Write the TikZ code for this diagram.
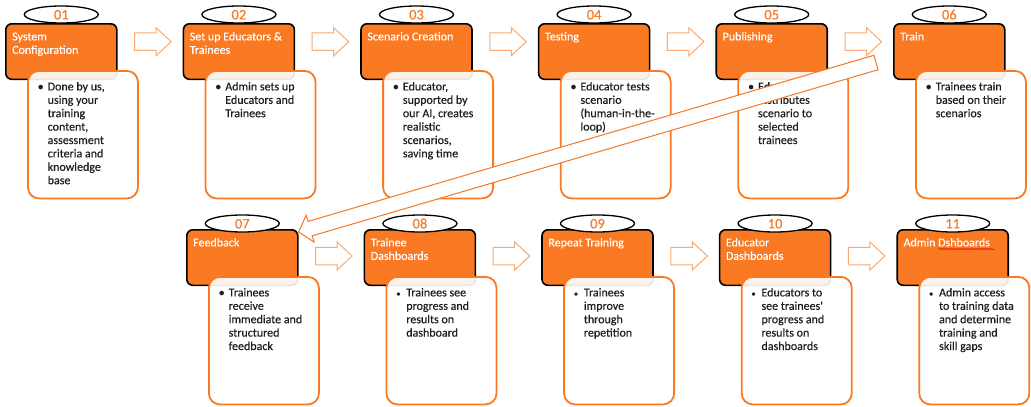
\documentclass[tikz,border=0pt]{standalone}
\usepackage{fontspec}
\setmainfont{Carlito}[FakeBold=0.35]
\newfontfamily\plainfont{Carlito}[FakeBold=0.35]
\usetikzlibrary{calc,shapes.geometric,decorations.pathmorphing}
\definecolor{org}{RGB}{250,122,36}
\definecolor{numc}{RGB}{245,124,40}
\definecolor{harr}{RGB}{248,170,115}
\definecolor{darr}{RGB}{244,120,40}
\definecolor{txt}{RGB}{30,30,30}
\newcommand\mylines[1]{\vtop{\baselineskip=13.4pt\halign{##\hfil\cr#1\crcr}}}
\newcommand\bigbul{\textbullet}
\newcommand\smallbul{\scalebox{0.7}{\textbullet}}
% #1 id, #2 x, #3 y, #4 ellipse dy, #5 number, #6 title, #7 body, #8 bullet
\newcommand\card[8]{%
  \node[obox, anchor=north west] (o#1) at (#2,#3) {};
  \node[wbox, anchor=north west] (w#1) at ($(o#1.north west)+(22,47)$) {};
  \node[nell] (e#1) at ($(o#1.north)+(0,#4)$) {#5};
  \node[ttl, anchor=base west] (t#1) at ($(o#1.north west)+(7,17.4)$) {\mylines{#6}};
  \node[bodytxt, anchor=base west] (u#1) at ($(w#1.north west)+(10.5,20.4)$) {#8};
  \node[bodytxt, anchor=base west] (b#1) at ($(w#1.north west)+(20.5,20.4)$) {\mylines{#7}};
}
\tikzset{
  obox/.style={draw=black, line width=1.6pt, fill=org, rounded corners=6pt,
    minimum width=111pt, minimum height=55.5pt, inner sep=0pt},
  wbox/.style={draw=org, line width=1.8pt, fill=white, fill opacity=0.9,
    rounded corners=11pt, minimum width=110pt, minimum height=127.5pt, inner sep=0pt},
  nell/.style={ellipse, draw=black, line width=1.3pt, fill=white, minimum width=74pt,
    minimum height=17pt, inner sep=0pt, text=numc, text height=9.8pt, text depth=0pt,
    font=\fontsize{14.5}{14.5}\selectfont},
  ttl/.style={inner sep=0pt, text=white, font=\fontsize{12}{13.4}\selectfont},
  bodytxt/.style={inner sep=0pt, text=txt, font=\fontsize{12}{13.4}\selectfont},
  harrow/.style={draw=harr, line width=1pt, fill=white},
  darrow/.style={draw=darr, line width=1pt, fill=white},
  hblock/.pic={\draw[harrow] (0,-8.75) -- (21.5,-8.75) -- (21.5,-14) -- (36.5,0)
     -- (21.5,14) -- (21.5,8.75) -- (0,8.75) -- cycle;}
}
\begin{document}
\begin{tikzpicture}[x=1pt,y=-1pt]
\fill[white] (0,0) rectangle (1031,407);
\useasboundingbox (0,0) rectangle (1031,407);
% top row
\card{1}{5}{23}{-8.5}{01}{System\cr Configuration}{Done by us,\cr using your\cr training\cr content,\cr assessment\cr criteria and\cr knowledge\cr base}{\bigbul}
\card{2}{182.6}{23}{-8.5}{02}{Set up Educators \&\cr Trainees}{Admin sets up\cr Educators and\cr Trainees}{\bigbul}
\card{3}{360.2}{23}{-8.5}{03}{Scenario Creation}{Educator,\cr supported by\cr our AI, creates\cr realistic\cr scenarios,\cr saving time}{\bigbul}
\card{4}{537.8}{23}{-8.5}{04}{Testing}{Educator tests\cr scenario\cr (human-in-the-\cr loop)}{\bigbul}
\card{5}{715.4}{23}{-8.5}{05}{Publishing}{Educator\cr distributes\cr scenario to\cr selected\cr trainees}{\bigbul}
\card{6}{893}{23}{-8.5}{06}{Train}{Trainees train\cr based on their\cr scenarios}{\bigbul}
% bottom row
\card{7}{186}{229}{-5.5}{07}{Feedback}{Trainees\cr receive\cr immediate and\cr structured\cr feedback}{\bigbul}
\card{8}{363.6}{229}{-5.5}{08}{Trainee\cr Dashboards}{Trainees see\cr progress and\cr results on\cr dashboard}{\smallbul}
\card{9}{541.2}{229}{-5.5}{09}{Repeat Training}{Trainees\cr improve\cr through\cr repetition}{\smallbul}
\card{10}{718.8}{229}{-5.5}{10}{Educator\cr Dashboards}{Educators to\cr see trainees{\plainfont'}\cr progress and\cr results on\cr dashboards}{\smallbul}
\card{11}{896.4}{229}{-5.5}{11}{Admin Dshboards}{Admin access\cr to training data\cr and determine\cr training and\cr skill gaps}{\smallbul}
% spell-check squiggle
\draw[red, line width=0.5pt, decorate, decoration={snake, amplitude=0.7pt, segment length=2.5pt}]
  ($(t11.base west)+(35,2.6)$) -- ++(56,0);
% horizontal block arrows
\foreach \i in {1,...,5} { \pic at ($(o\i.north east)+(17,18.7)$) {hblock}; }
\foreach \i in {7,...,10} { \pic at ($(o\i.north east)+(17,27)$) {hblock}; }
% diagonal return arrow
\coordinate (tip) at ($(o7.north east)+(0,3)$);
\coordinate (tail) at ($(o6.north west)+(-17,39.5)$);
\coordinate (hb) at ($(tip)!12pt!(tail)$);
\draw[darrow] (tip) -- ($(hb)!14pt!90:(tail)$) -- ($(hb)!7.5pt!90:(tail)$)
  -- ($(tail)!7.5pt!-90:(hb)$) -- ($(tail)!7.5pt!90:(hb)$)
  -- ($(hb)!7.5pt!-90:(tail)$) -- ($(hb)!14pt!-90:(tail)$) -- cycle;
\end{tikzpicture}
\end{document}
